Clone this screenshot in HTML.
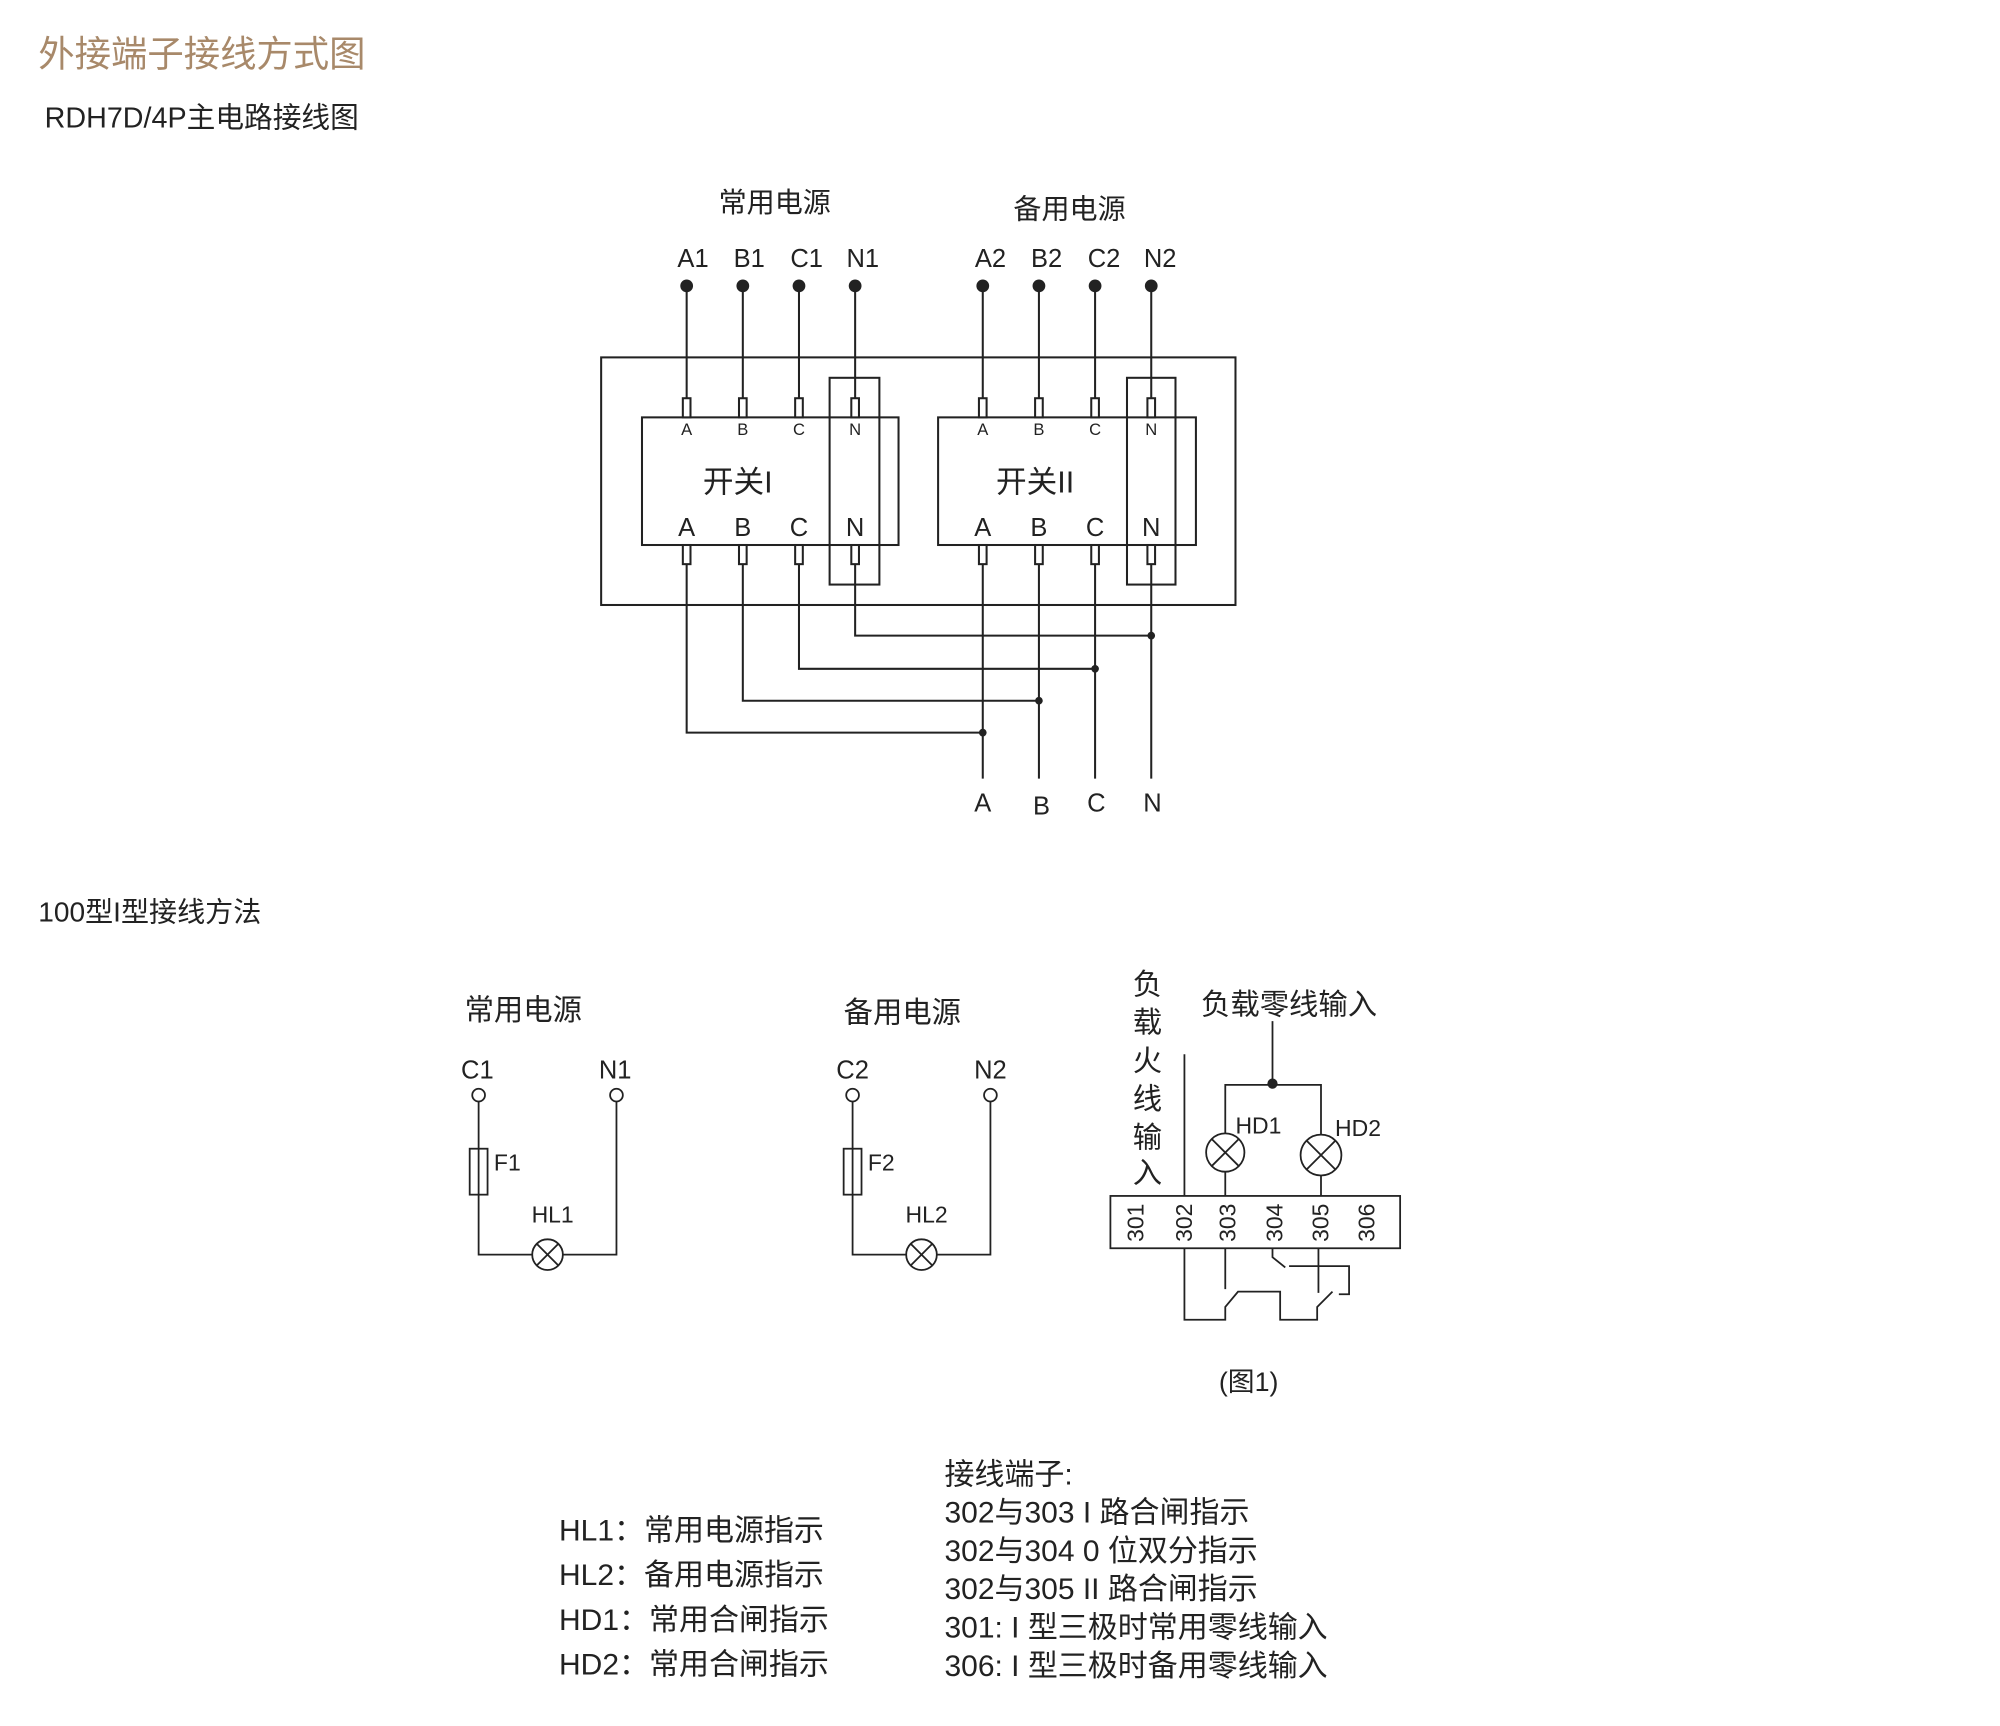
<!DOCTYPE html>
<html><head><meta charset="utf-8"><style>
html,body{margin:0;padding:0;background:#fff;}
svg{display:block;}
text{font-family:"Liberation Sans","Noto Sans CJK SC",sans-serif;fill:#222;}
</style></head><body>
<svg width="2000" height="1726" viewBox="0 0 1567 1352.3" xmlns="http://www.w3.org/2000/svg">
<g>
<text x="30" y="52" font-size="28.5" style="fill:#a8896a">外接端子接线方式图</text>
<text x="35" y="100" font-size="22.5">RDH7D/4P主电路接线图</text>
</g>
<g stroke="#222" stroke-width="1.6" fill="none">
<rect x="471" y="280" width="497" height="194"/>
<rect x="503" y="327" width="201" height="100"/>
<rect x="735" y="327" width="202" height="100"/>
<rect x="650" y="296" width="39" height="162"/>
<rect x="883" y="296" width="38" height="162"/>
<path d="M538 224V312M582 224V312M626 224V312M670 224V312M770 224V312M814 224V312M858 224V312M902 224V312"/>
<g fill="#fff">
<rect x="535" y="312" width="6" height="15"/><rect x="579" y="312" width="6" height="15"/><rect x="623" y="312" width="6" height="15"/><rect x="667" y="312" width="6" height="15"/>
<rect x="767" y="312" width="6" height="15"/><rect x="811" y="312" width="6" height="15"/><rect x="855" y="312" width="6" height="15"/><rect x="899" y="312" width="6" height="15"/>
<rect x="535" y="427" width="6" height="15"/><rect x="579" y="427" width="6" height="15"/><rect x="623" y="427" width="6" height="15"/><rect x="667" y="427" width="6" height="15"/>
<rect x="767" y="427" width="6" height="15"/><rect x="811" y="427" width="6" height="15"/><rect x="855" y="427" width="6" height="15"/><rect x="899" y="427" width="6" height="15"/>
</g>
<path d="M538 442V574H770M582 442V549H814M626 442V524H858M670 442V498H902"/>
<path d="M770 442V610M814 442V610M858 442V610M902 442V610"/>
</g>
<g fill="#222">
<circle cx="538" cy="224" r="5"/><circle cx="582" cy="224" r="5"/><circle cx="626" cy="224" r="5"/><circle cx="670" cy="224" r="5"/>
<circle cx="770" cy="224" r="5"/><circle cx="814" cy="224" r="5"/><circle cx="858" cy="224" r="5"/><circle cx="902" cy="224" r="5"/>
<circle cx="770" cy="574" r="3"/><circle cx="814" cy="549" r="3"/><circle cx="858" cy="524" r="3"/><circle cx="902" cy="498" r="3"/>
</g>
<g text-anchor="middle">
<text x="607" y="166" font-size="22">常用电源</text>
<text x="838" y="171" font-size="22">备用电源</text>
<g font-size="20">
<text x="543" y="209">A1</text><text x="587" y="209">B1</text><text x="632" y="209">C1</text><text x="676" y="209">N1</text>
<text x="776" y="209">A2</text><text x="820" y="209">B2</text><text x="865" y="209">C2</text><text x="909" y="209">N2</text>
</g>
<g font-size="13">
<text x="538" y="341">A</text><text x="582" y="341">B</text><text x="626" y="341">C</text><text x="670" y="341">N</text>
<text x="770" y="341">A</text><text x="814" y="341">B</text><text x="858" y="341">C</text><text x="902" y="341">N</text>
</g>
<text x="578" y="386" font-size="24">开关I</text>
<text x="811" y="386" font-size="24">开关II</text>
<g font-size="20">
<text x="538" y="420">A</text><text x="582" y="420">B</text><text x="626" y="420">C</text><text x="670" y="420">N</text>
<text x="770" y="420">A</text><text x="814" y="420">B</text><text x="858" y="420">C</text><text x="902" y="420">N</text>
<text x="770" y="636">A</text><text x="816" y="638">B</text><text x="859" y="636">C</text><text x="903" y="636">N</text>
</g>
</g>

<text x="30" y="722" font-size="22">100型I型接线方法</text>
<text x="364" y="799" font-size="23">常用电源</text>
<text x="661" y="801" font-size="23">备用电源</text>
<g text-anchor="middle" font-size="20">
<text x="374" y="845">C1</text><text x="482" y="845">N1</text>
<text x="668" y="845">C2</text><text x="776" y="845">N2</text>
</g>
<g stroke="#222" stroke-width="1.4" fill="none">
<circle cx="375" cy="858" r="5"/><circle cx="483" cy="858" r="5"/>
<circle cx="668" cy="858" r="5"/><circle cx="776" cy="858" r="5"/>
<path d="M375 863V900M375 936V983H417M441 983H483V863"/>
<rect x="368" y="900" width="14" height="36"/>
<path d="M375 900V936"/>
<circle cx="429" cy="983" r="12"/>
<path d="M420.5 974.5L437.5 991.5M437.5 974.5L420.5 991.5"/>
<path d="M668 863V900M668 936V983H710M734 983H776V863"/>
<rect x="661" y="900" width="14" height="36"/>
<path d="M668 900V936"/>
<circle cx="722" cy="983" r="12"/>
<path d="M713.5 974.5L730.5 991.5M730.5 974.5L713.5 991.5"/>
<path d="M928 826V937"/>
<path d="M997 800V850M960 888V850H1035V889"/>
<circle cx="960" cy="903" r="15"/>
<path d="M949.4 892.4L970.6 913.6M970.6 892.4L949.4 913.6"/>
<circle cx="1035" cy="905" r="16"/>
<path d="M1023.7 893.7L1046.3 916.3M1046.3 893.7L1023.7 916.3"/>
<path d="M960 918V937M1035 921V937"/>
<rect x="870" y="937" width="227" height="41"/>
<path d="M928 978V1034H960V1024L970 1012H1003V1034H1032V1024L1044 1012"/>
<path d="M960 978V1010M1033 978V1013M997 978V985L1007 993M1010 992H1057V1014H1049"/>
</g>
<circle cx="997" cy="849" r="4" fill="#222"/>
<g font-size="18">
<text x="387" y="917">F1</text><text x="680" y="917">F2</text>
<text x="433" y="958" text-anchor="middle">HL1</text><text x="726" y="958" text-anchor="middle">HL2</text>
<text x="968" y="888">HD1</text><text x="1046" y="890">HD2</text>
</g>
<g font-size="23" text-anchor="middle">
<text x="899" y="779">负</text><text x="899" y="809">载</text><text x="899" y="839">火</text>
<text x="899" y="869">线</text><text x="899" y="899">输</text><text x="899" y="927">入</text>
</g>
<text x="941" y="795" font-size="23">负载零线输入</text>
<g font-size="18" text-anchor="middle">
<text transform="translate(896 958) rotate(-90)">301</text>
<text transform="translate(934 958) rotate(-90)">302</text>
<text transform="translate(968 958) rotate(-90)">303</text>
<text transform="translate(1005 958) rotate(-90)">304</text>
<text transform="translate(1041 958) rotate(-90)">305</text>
<text transform="translate(1077 958) rotate(-90)">306</text>
</g>
<text x="955" y="1090" font-size="21">(图1)</text>
<g font-size="23.5">
<text x="438" y="1207">HL1：常用电源指示</text>
<text x="438" y="1242">HL2：备用电源指示</text>
<text x="438" y="1277">HD1：常用合闸指示</text>
<text x="438" y="1312">HD2：常用合闸指示</text>
<text x="740" y="1163">接线端子:</text>
<text x="740" y="1193">302与303 I 路合闸指示</text>
<text x="740" y="1223">302与304 0 位双分指示</text>
<text x="740" y="1253">302与305 II 路合闸指示</text>
<text x="740" y="1283">301: I 型三极时常用零线输入</text>
<text x="740" y="1313">306: I 型三极时备用零线输入</text>
</g>
</svg>
</body></html>
